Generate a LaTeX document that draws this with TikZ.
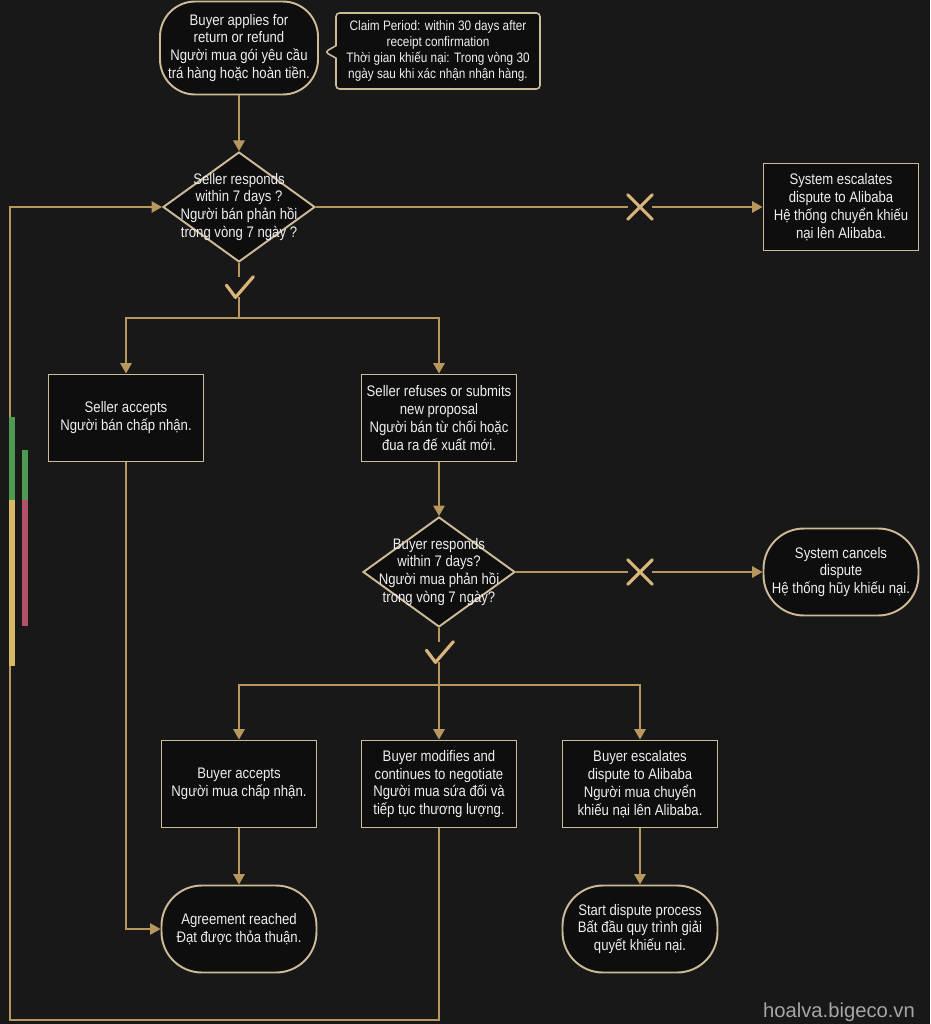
\documentclass[tikz,border=0pt]{standalone}
\usepackage{fontspec}
\setmainfont[FakeStretch=0.86]{Liberation Sans}
\newfontfamily\wmfont{Liberation Sans}
\usepackage{xcolor}
\usepackage{tikz}
\usetikzlibrary{shapes.geometric, shapes.callouts, arrows.meta, positioning}
\definecolor{bgdark}{HTML}{181818}
\definecolor{boxfill}{HTML}{0E0E0E}
\definecolor{boxline}{HTML}{CDBB98}
\definecolor{goldline}{HTML}{B8975E}
\definecolor{crossc}{HTML}{D9B57C}
\definecolor{txtc}{HTML}{EEEEEE}
\definecolor{barg}{HTML}{4F9A52}
\definecolor{bary}{HTML}{D8BA62}
\definecolor{barr}{HTML}{B3506A}
\newcommand{\boxfont}{\fontsize{8.7pt}{10.2pt}\selectfont}
\newcommand{\notefont}{\fontsize{7.8pt}{9.2pt}\selectfont}
\tikzset{
  procbox/.style={rectangle, draw=boxline, line width=1.1pt, fill=boxfill,
                  text=txtc, align=center, minimum width=3.1cm,
                  minimum height=1.74cm, inner sep=2pt, font=\boxfont},
  termbox/.style={procbox, rounded corners=23pt},
  decbox/.style={diamond, draw=boxline, line width=1.1pt, fill=boxfill,
                 minimum width=3.04cm, minimum height=2.2cm, inner sep=0pt},
  dectext/.style={align=center, text=txtc, font=\boxfont, inner sep=0pt},
  notebox/.style={rectangle callout, draw=boxline, line width=0.9pt,
                  fill=boxfill, rounded corners=2pt, text=txtc, align=center,
                  minimum width=4.08cm, minimum height=1.52cm, font=\notefont},
  link/.style={draw=goldline, line width=1.1pt},
  flow/.style={link, -{Triangle[width=6.5pt,length=6pt]}},
  nomark/.style={rectangle, minimum size=0.48cm, inner sep=0pt},
  yesmark/.style={rectangle, minimum width=0.56cm, minimum height=0.4cm, inner sep=0pt},
  sign/.style={draw=crossc, line width=1.8pt, line cap=round, line join=round},
}

\begin{document}
\begin{tikzpicture}[x=0.02cm, y=-0.02cm]
  \fill[bgdark] (0,0) rectangle (930,1024);

  % top of the flow
  \node[termbox, minimum width=3.16cm, minimum height=1.86cm, rounded corners=20pt] (apply) at (239,48)
    {Buyer applies for\\return or refund\\Người mua gói yêu cầu\\trá hàng hoặc hoàn tiền.};
  \node[notebox, callout absolute pointer={(325,52)}] (claim) at (438,51)
    {Claim Period: within 30 days after\\receipt confirmation\\Thời gian khiếu nại: Trong vòng 30\\ngày sau khi xác nhận nhận hàng.};

  \node[decbox, label={[dectext]center:{Seller responds\\within 7 days ?\\Người bán phản hồi\\trong vòng 7 ngày ?}}] (sresp) at (239,207) {};
  \node[nomark] (no1) at (640,207) {};
  \node[procbox] (sysesc) at (841,207)
    {System escalates\\dispute to Alibaba\\Hệ thống chuyển khiếu\\nại lên Alibaba.};
  \node[yesmark] (yes1) at (239,287) {};
  \coordinate (split1) at (239,318);

  % seller side
  \node[procbox] (sacc) at (126,418) {Seller accepts\\Người bán chấp nhận.};
  \node[procbox] (sref) at (439,418)
    {Seller refuses or submits\\new proposal\\Người bán từ chối hoặc\\đua ra đế xuất mới.};

  % buyer side
  \node[decbox, label={[dectext]center:{Buyer responds\\within 7 days?\\Người mua phản hồi\\trong vòng 7 ngày?}}] (bresp) at (439,572) {};
  \node[nomark] (no2) at (640,572) {};
  \node[termbox] (cancel) at (841,572) {System cancels\\dispute\\Hệ thống hũy khiếu nại.};
  \node[yesmark] (yes2) at (439,652) {};
  \coordinate (split2) at (439,685);

  \node[procbox] (bacc) at (239,784) {Buyer accepts\\Người mua chấp nhận.};
  \node[procbox] (bmod) at (439,784)
    {Buyer modifies and\\continues to negotiate\\Người mua sứa đối và\\tiếp tục thương lượng.};
  \node[procbox] (besc) at (640,784)
    {Buyer escalates\\dispute to Alibaba\\Người mua chuyển\\khiếu nại lên Alibaba.};

  \node[termbox] (agree) at (239,929) {Agreement reached\\Đạt được thỏa thuận.};
  \node[termbox] (dproc) at (640,929)
    {Start dispute process\\Bất đầu quy trình giải\\quyết khiếu nại.};
  \coordinate (loopbl) at (10,1020);

  % connectors
  \draw[flow] (apply) -- (sresp);
  \draw[link] (sresp.east) -- (no1.west);
  \draw[flow] (no1.east) -- (sysesc.west);
  \draw[link] (sresp.south) -- (yes1.north);
  \draw[link] (yes1.south) -- (split1);
  \draw[flow] (split1) -| (sacc.north);
  \draw[flow] (split1) -| (sref.north);
  \draw[flow] (sref) -- (bresp);
  \draw[link] (bresp.east) -- (no2.west);
  \draw[flow] (no2.east) -- (cancel.west);
  \draw[link] (bresp.south) -- (yes2.north);
  \draw[link] (yes2.south) -- (split2);
  \draw[flow] (split2) -| (bacc.north);
  \draw[flow] (split2) -- (bmod.north);
  \draw[flow] (split2) -| (besc.north);
  \draw[flow] (bacc) -- (agree);
  \draw[flow] (besc) -- (dproc);
  \draw[flow] (sacc.south) |- (agree.west);
  \draw[flow] (bmod.south) |- (loopbl) |- (sresp.west);

  % cross and tick marks
  \foreach \n in {no1,no2}
    \draw[sign] (\n.north west) -- (\n.south east) (\n.south west) -- (\n.north east);
  \foreach \n in {yes1,yes2}
    \draw[sign] ([xshift=1pt,yshift=1pt]\n.west) -- ([xshift=-2pt]\n.south) -- (\n.north east);

  % side bars
  \fill[barg] (9,417) rectangle (15,500);
  \fill[bary] (9,500) rectangle (15,666);
  \fill[barg] (22,450) rectangle (28,500);
  \fill[barr] (22,500) rectangle (28,626);

  \node[text=gray!70, font=\wmfont\fontsize{11.5pt}{13pt}\selectfont, inner sep=0pt] (wmark) at (839,1012) {hoalva.bigeco.vn};
\end{tikzpicture}
\end{document}
